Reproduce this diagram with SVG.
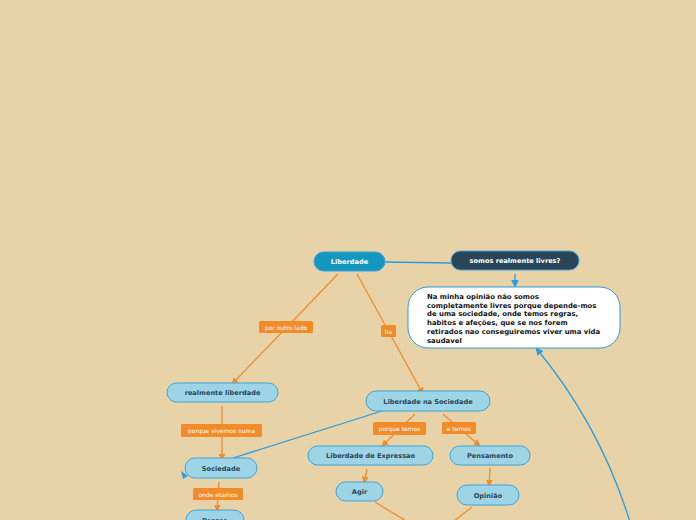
<svg xmlns="http://www.w3.org/2000/svg" width="696" height="520" viewBox="0 0 696 520">
<defs>
<marker id="ao" viewBox="0 0 10 10" refX="9" refY="5" markerWidth="7" markerHeight="7" markerUnits="userSpaceOnUse" orient="auto"><path d="M0,0 L10,5 L0,10 z" fill="#F28C28"/></marker>
<marker id="ab" viewBox="0 0 10 10" refX="9" refY="5" markerWidth="8" markerHeight="8" markerUnits="userSpaceOnUse" orient="auto"><path d="M0,0 L10,5 L0,10 z" fill="#2D9CDB"/></marker>
<style>
.n rect{fill:#9DD5E6;stroke:#3BA3DB;stroke-width:1}
.n text{font-family:"DejaVu Sans",sans-serif;font-weight:bold;font-size:6.6px;fill:#2B4558;text-anchor:middle}
.t text{font-family:"DejaVu Sans",sans-serif;font-weight:bold;font-size:6.6px;fill:#fff;text-anchor:middle}
.lb rect{fill:#F28C28}
.lb text{font-family:"DejaVu Sans",sans-serif;font-size:6px;fill:#fff;text-anchor:middle}
.o{stroke:#F28C28;stroke-width:1.3;fill:none}
.b{stroke:#2D9CDB;stroke-width:1.3;fill:none}
</style>
</defs>
<rect width="696" height="520" fill="#E8D3A8"/>
<g id="connectors">
<line class="b" x1="385" y1="262" x2="451" y2="263"/>
<line class="b" x1="515" y1="274" x2="515" y2="287" marker-end="url(#ab)"/>
<path class="b" d="M630,522 Q600,425 536,348" marker-end="url(#ab)"/>
<line class="o" x1="338" y1="274" x2="232" y2="384" marker-end="url(#ao)"/>
<line class="o" x1="357" y1="274" x2="423" y2="394" marker-end="url(#ao)"/>
<line class="o" x1="222" y1="406" x2="222" y2="460" marker-end="url(#ao)"/>
<line class="b" x1="382" y1="411" x2="230" y2="459"/>
<path d="M181,471 L188,476 L183,479 z" fill="#2D9CDB"/>
<line class="o" x1="219" y1="482" x2="217" y2="511" marker-end="url(#ao)"/>
<line class="o" x1="415" y1="414" x2="382" y2="446" marker-end="url(#ao)"/>
<line class="o" x1="443" y1="414" x2="480" y2="446" marker-end="url(#ao)"/>
<line class="o" x1="367" y1="469" x2="364" y2="483" marker-end="url(#ao)"/>
<line class="o" x1="490" y1="468" x2="489" y2="486" marker-end="url(#ao)"/>
<line class="o" x1="375" y1="502" x2="406" y2="521"/>
<line class="o" x1="472" y1="507" x2="454" y2="521"/>
<g class="lb">
<rect x="259" y="321" width="54" height="12" rx="1.5"/><text x="286" y="329.5">por outro lado</text>
<rect x="381" y="325" width="15" height="12" rx="1.5"/><text x="388.5" y="333.5">ha</text>
<rect x="181" y="424" width="81" height="13" rx="1.5"/><text x="221.5" y="433">porque vivemos numa</text>
<rect x="193" y="488" width="50" height="12" rx="1.5"/><text x="218" y="496.5">onde etamos</text>
<rect x="373" y="422" width="53" height="13" rx="1.5"/><text x="399.5" y="431">porque temos</text>
<rect x="442" y="422" width="34" height="12" rx="1.5"/><text x="459" y="430.5">e temos</text>
</g>
</g>
<g id="n-liberdade" class="t"><rect x="314" y="252" width="71" height="19" rx="9.5" fill="#1497BF" stroke="#3BA3DB"/><text x="349.5" y="264.3">Liberdade</text></g>
<g id="n-somos" class="t"><rect x="451" y="251" width="128" height="19" rx="9.5" fill="#2B4558" stroke="#3BA3DB"/><text x="515" y="263.3">somos realmente livres?</text></g>
<g id="n-opiniao-texto">
<rect x="408" y="287" width="212" height="61" rx="20" fill="#fff" stroke="#2D9CDB" stroke-width="1"/>
<text font-family="DejaVu Sans,sans-serif" font-weight="bold" font-size="6.9" fill="#111">
<tspan x="427" y="299">Na minha opinião não somos</tspan>
<tspan x="427" y="307.7">completamente livres porque depende-mos</tspan>
<tspan x="427" y="316.4">de uma sociedade, onde temos regras,</tspan>
<tspan x="427" y="325.1">habitos e afeções, que se nos forem</tspan>
<tspan x="427" y="333.8">retirados nao conseguiremos viver uma vida</tspan>
<tspan x="427" y="342.5">saudavel</tspan>
</text>
</g>
<g id="n-realmente" class="n"><rect x="167" y="383" width="111" height="19" rx="9.5"/><text x="222.5" y="395.3">realmente liberdade</text></g>
<g id="n-sociedade" class="n"><rect x="185" y="458" width="72" height="20" rx="10"/><text x="221" y="470.8">Sociedade</text></g>
<g id="n-pessoa" class="n"><rect x="186" y="510" width="58" height="20" rx="10"/><text x="215" y="522.5">Pessoa</text></g>
<g id="n-libsoc" class="n"><rect x="366" y="391" width="124" height="20" rx="10"/><text x="428" y="403.8">Liberdade na Sociedade</text></g>
<g id="n-libexp" class="n"><rect x="308" y="446" width="125" height="19" rx="9.5"/><text x="370.5" y="458.3">Liberdade de Expressao</text></g>
<g id="n-pensamento" class="n"><rect x="450" y="446" width="80" height="19" rx="9.5"/><text x="490" y="458.3">Pensamento</text></g>
<g id="n-agir" class="n"><rect x="336" y="482" width="47" height="19" rx="9.5"/><text x="359.5" y="494.3">Agir</text></g>
<g id="n-opiniao" class="n"><rect x="457" y="485" width="62" height="20" rx="10"/><text x="488" y="497.8">Opinião</text></g>
</svg>
